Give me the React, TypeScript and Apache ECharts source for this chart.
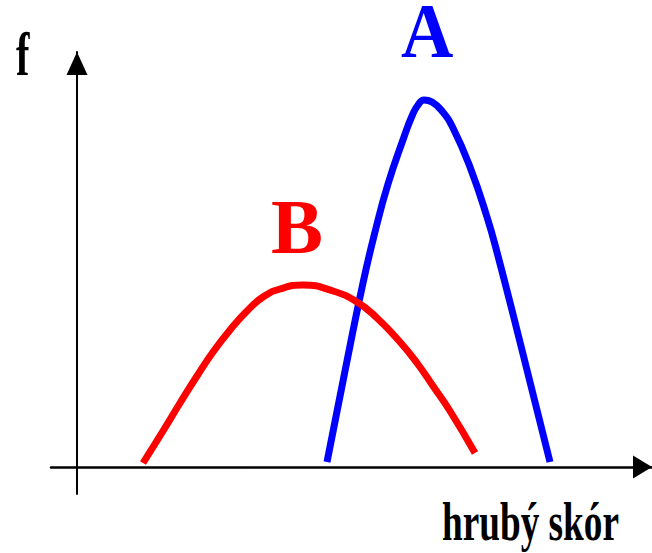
import React, { useEffect, useRef } from "react";
import * as echarts from "echarts";

// Curve A (blue): score vs frequency
const scoreA = [250, 268, 286, 298, 311, 327, 335, 341, 347, 355, 365, 376, 393, 410, 421, 443, 473];
const freqA = [5, 96, 184, 235, 283, 330, 351, 362, 367, 365, 356, 339, 300, 250, 211, 125, 5];

// Curve B (red)
const scoreB = [66, 86, 103, 120, 136, 153, 170, 186, 203, 226, 256, 280, 300, 323, 340, 356, 373, 398];
const freqB = [4, 36, 64, 91, 115, 137, 156, 170, 178, 182, 176, 165, 149, 125, 104, 81, 56, 14];

const labelA = "A";
const labelB = "B";
const yAxisLabel = "f";
const xAxisLabel = "hrubý skór";

const SERIF = '"Liberation Serif", "Times New Roman", serif';

export default function App() {
  const ref = useRef<HTMLDivElement>(null);
  useEffect(() => {
    if (!ref.current) return;
    const chart = echarts.init(ref.current, null, { renderer: "svg" });
    const dataA = scoreA.map((x, i) => [x, freqA[i]]);
    const dataB = scoreB.map((x, i) => [x, freqB[i]]);
    chart.setOption({
      animation: false,
      backgroundColor: "#ffffff",
      grid: { left: 51, right: 0, top: 52, bottom: 59 },
      xAxis: {
        type: "value",
        min: -26,
        max: 575,
        splitLine: { show: false },
        axisTick: { show: false },
        axisLabel: { show: false },
        axisLine: {
          show: true,
          onZero: true,
          symbol: ["none", "triangle"],
          symbolSize: [23, 19],
          symbolOffset: [0, -9.5],
          lineStyle: { color: "#000", width: 2.5 },
        },
      },
      yAxis: {
        type: "value",
        min: -27,
        max: 415,
        splitLine: { show: false },
        axisTick: { show: false },
        axisLabel: { show: false },
        axisLine: {
          show: true,
          onZero: true,
          symbol: ["none", "triangle"],
          symbolSize: [21, 23],
          symbolOffset: [0, -11.5],
          lineStyle: { color: "#000", width: 2 },
        },
      },
      series: [
        {
          type: "line",
          data: dataA,
          smooth: 0.5,
          showSymbol: false,
          symbol: "none",
          lineStyle: { color: "#0000ff", width: 7 },
          silent: true,
        },
        {
          type: "line",
          data: dataB,
          smooth: 0.5,
          showSymbol: false,
          symbol: "none",
          lineStyle: { color: "#ff0000", width: 7 },
          silent: true,
        },
      ],
      graphic: [
        {
          type: "text",
          x: 16,
          y: 54,
          scaleX: 0.65,
          style: {
            text: yAxisLabel,
            font: `bold 62px ${SERIF}`,
            lineHeight: 44,
            fill: "#000",
            align: "left",
            verticalAlign: "middle",
          },
        },
        {
          type: "text",
          x: 401,
          y: 31,
          scaleX: 0.93,
          style: {
            text: labelA,
            font: `bold 78px ${SERIF}`,
            lineHeight: 56,
            fill: "#0000ff",
            align: "left",
            verticalAlign: "middle",
          },
        },
        {
          type: "text",
          x: 271,
          y: 226,
          style: {
            text: labelB,
            font: `bold 78px ${SERIF}`,
            lineHeight: 56,
            fill: "#ff0000",
            align: "left",
            verticalAlign: "middle",
          },
        },
        {
          type: "text",
          x: 442,
          y: 522,
          scaleX: 0.69,
          style: {
            text: xAxisLabel,
            font: `bold 54px ${SERIF}`,
            lineHeight: 56,
            fill: "#000",
            align: "left",
            verticalAlign: "middle",
          },
        },
      ],
    });
    return () => chart.dispose();
  }, []);
  return (
    <div
      ref={ref}
      style={{ position: "fixed", left: 0, top: 0, width: 652, height: 553 }}
    />
  );
}
